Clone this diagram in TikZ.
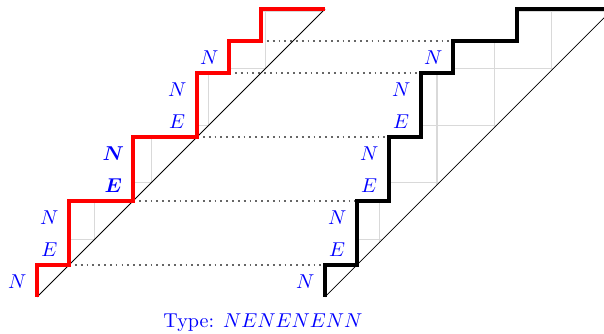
\documentclass[tikz,border=0pt]{standalone}
\usepackage{bm}
\begin{document}
\begin{tikzpicture}[x=0.56cm, y=0.56cm,
    lbl/.style={text=blue},
    grd/.style={gray!30, line width=0.6pt},
    dots/.style={black!60, dotted, line width=0.9pt},
    thin diag/.style={black, line width=0.4pt}]
    \clip (-1.16,-1.13) rectangle (17.72,9.28);

    % corners joined by the dotted lines
    \coordinate (l1) at (1,1);
    \coordinate (l3) at (3,3);
    \coordinate (l5) at (5,5);
    \coordinate (l7) at (6,7);
    \coordinate (l8) at (7,8);
    \coordinate (r1) at (9,1);
    \coordinate (r3) at (10,3);
    \coordinate (r5) at (11,5);
    \coordinate (r7) at (12,7);
    \coordinate (r8) at (13,8);

    % grids under the paths
    \begin{scope}
        \clip (0,0) -- (0,1) -- (1,1) -- (1,3) -- (3,3) -- (3,5) -- (5,5) -- (5,7) -- (6,7) -- (6,8) -- (7,8) -- (7,9) -- (9,9) -- cycle;
        \draw[grd] (0,0) grid (9,9);
    \end{scope}
    \begin{scope}
        \clip (9,0) -- (9,1) -- (10,1) -- (10,3) -- (11,3) -- (11,5) -- (12,5) -- (12,7) -- (13,7) -- (13,8) -- (15,8) -- (15,9) -- (18,9) -- cycle;
        \draw[grd] (9,0) grid (18,9);
    \end{scope}

    \path[dots]
                (l1) edge (r1)
                (l3) edge (r3)
                (l5) edge (r5)
                (l7) edge (r7)
                (l8) edge (r8);

    \draw[thin diag] (0,0) -- (9,9);
    \draw[thin diag] (9,0) -- (18,9);

    \draw[red, line width=2pt] (0,0) -- (0,1) -- (1,1) -- (1,3) -- (3,3) -- (3,5) -- (5,5) -- (5,7) -- (6,7) -- (6,8) -- (7,8) -- (7,9) -- (9,9);
    \draw[black, line width=2pt] (9,0) -- (9,1) -- (10,1) -- (10,3) -- (11,3) -- (11,5) -- (12,5) -- (12,7) -- (13,7) -- (13,8) -- (15,8) -- (15,9) -- (18,9);

    % step labels
    \node[lbl] (ln0) at (-0.62,0.47) {$N$};
    \node[lbl] (ln1) at (0.38,1.47) {$E$};
    \node[lbl] (ln2) at (0.38,2.47) {$N$};
    \node[lbl] (ln3) at (2.38,3.47) {$\bm{E}$};
    \node[lbl] (ln4) at (2.38,4.47) {$\bm{N}$};
    \node[lbl] (ln5) at (4.38,5.47) {$E$};
    \node[lbl] (ln6) at (4.38,6.47) {$N$};
    \node[lbl] (ln7) at (5.38,7.47) {$N$};

    \node[lbl] (rn0) at (8.38,0.47) {$N$};
    \node[lbl] (rn1) at (9.38,1.47) {$E$};
    \node[lbl] (rn2) at (9.38,2.47) {$N$};
    \node[lbl] (rn3) at (10.38,3.47) {$E$};
    \node[lbl] (rn4) at (10.38,4.47) {$N$};
    \node[lbl] (rn5) at (11.38,5.47) {$E$};
    \node[lbl] (rn6) at (11.38,6.47) {$N$};
    \node[lbl] (rn7) at (12.38,7.47) {$N$};

    \node[lbl] (type) at (7.06,-0.82) {Type: $NENENENN$};
\end{tikzpicture}
\end{document}
